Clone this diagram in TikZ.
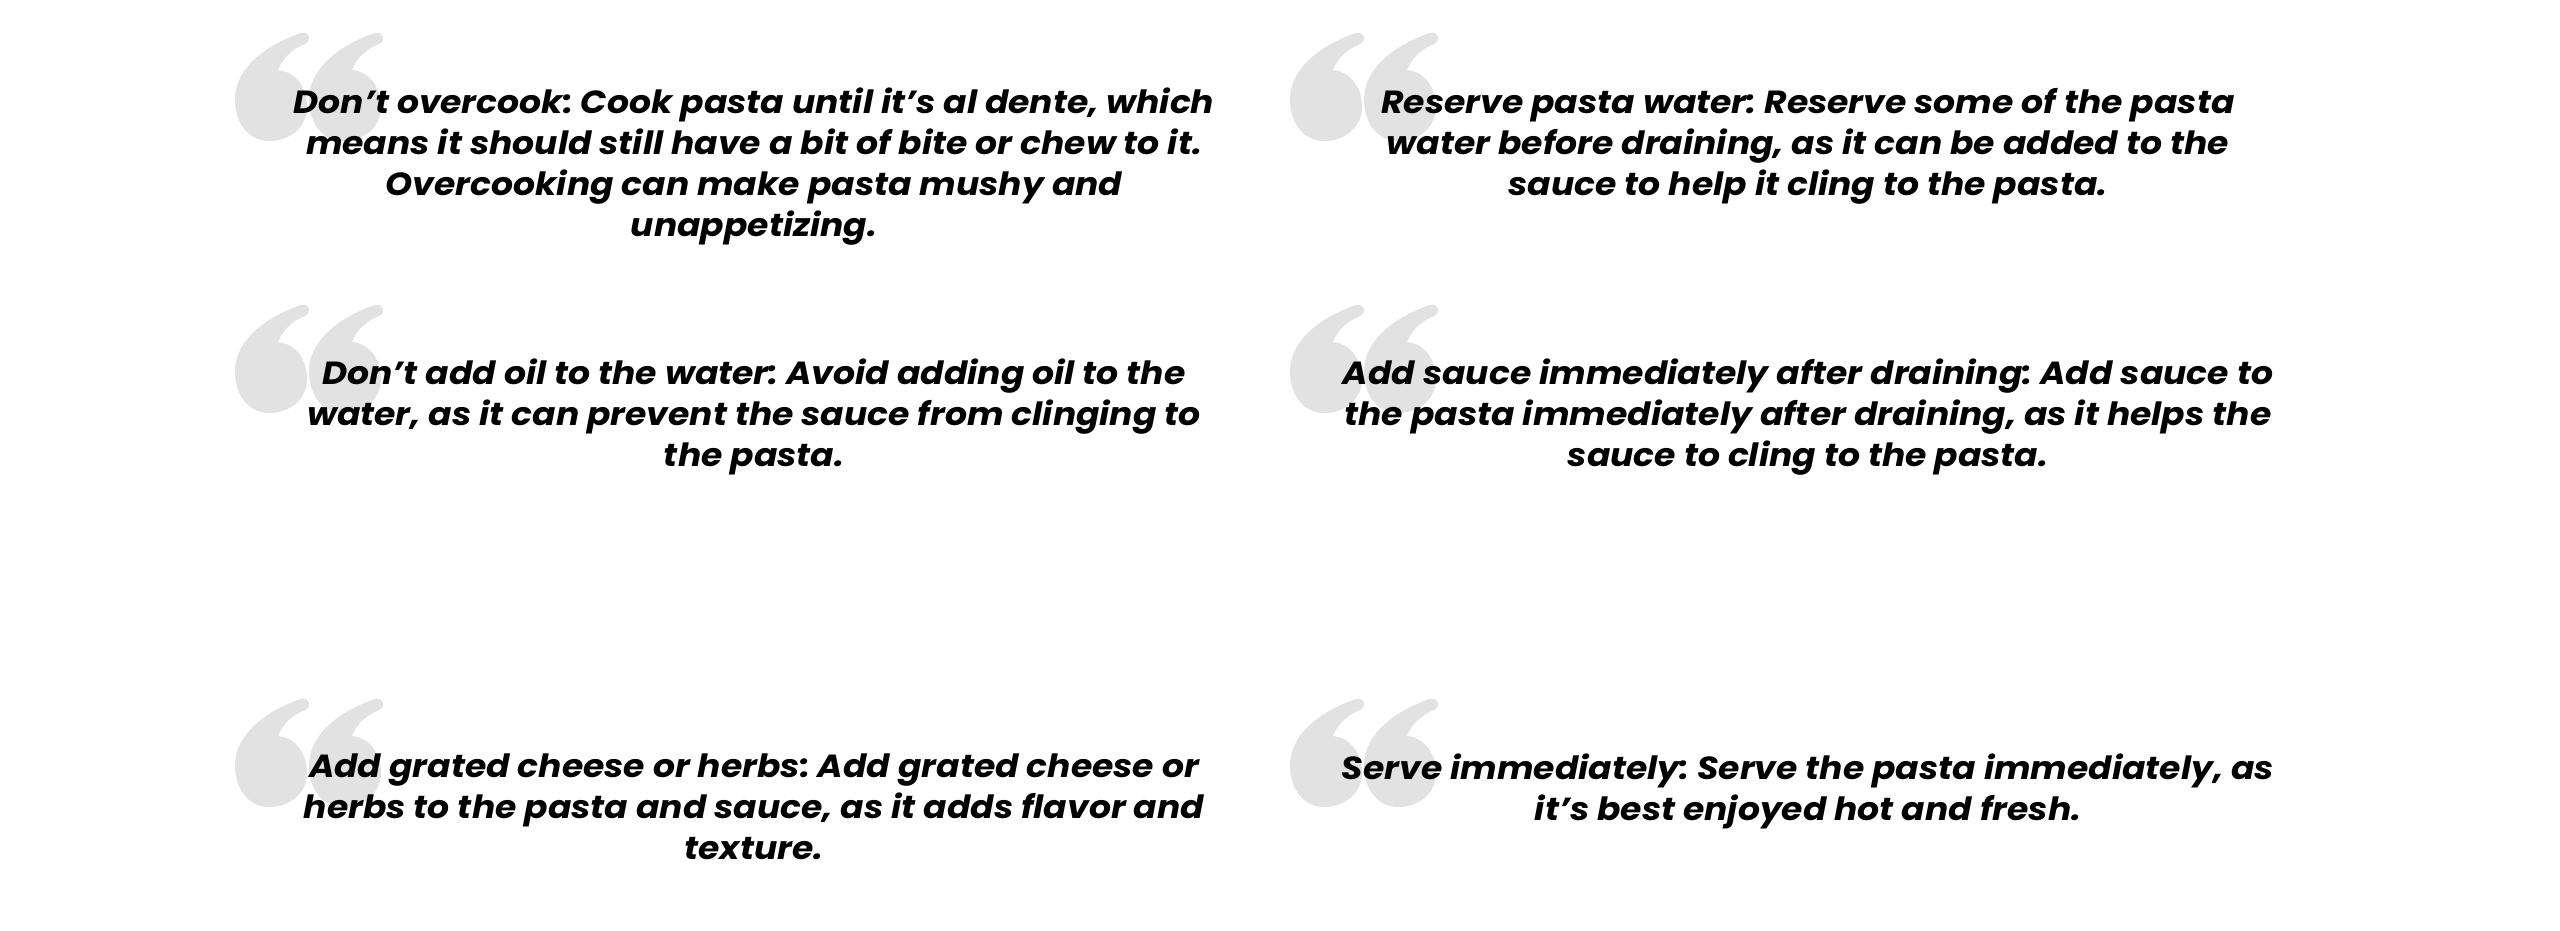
\documentclass[tikz,border=0pt]{standalone}
\usepackage{fontspec}
\setmainfont{Poppins}[BoldItalicFont={Poppins Bold Italic},BoldItalicFeatures={FakeStretch=1.08}]
\frenchspacing
\definecolor{quotegray}{HTML}{E2E2E2}
\tikzset{
  tiptext/.style={font=\fontsize{32bp}{41bp}\selectfont\bfseries\itshape,align=center,anchor=north,inner sep=0pt},
  comma/.pic={\fill[quotegray] (66,0) .. controls (30,12) and (0,36) .. (0,66) .. controls (0,92) and (15,108) .. (34,108) .. controls (55,108) and (72,94) .. (72,74) .. controls (72,52) and (58,38) .. (43,37) .. controls (48,24) and (58,16) .. (70,11) .. controls (77,8) and (75,-2) .. (66,0) -- cycle;},
}
\begin{document}
\begin{tikzpicture}[x=1bp,y=-1bp]
\fill[white] (0,0) rectangle (2560,930);
\useasboundingbox (0,0) rectangle (2560,930);
\foreach \qx in {235,1290}{ % quote marks, two columns
\foreach \qy in {33,305,699}{
\pic at (\qx,\qy) {comma};
\pic at (\qx+74,\qy) {comma};}}
\node[tiptext] (tip1) at (754,88) {Don’t overcook: Cook pasta until it’s al dente, which\\ means it should still have a bit of bite or chew to it.\\ Overcooking can make pasta mushy and\\ unappetizing.};
\node[tiptext] (tip2) at (1808,88) {Reserve pasta water: Reserve some of the pasta\\ water before draining, as it can be added to the\\ sauce to help it cling to the pasta.};
\node[tiptext] (tip3) at (754,359) {Don’t add oil to the water: Avoid adding oil to the\\ water, as it can prevent the sauce from clinging to\\ the pasta.};
\node[tiptext] (tip4) at (1808,359) {Add sauce immediately after draining: Add sauce to\\ the pasta immediately after draining, as it helps the\\ sauce to cling to the pasta.};
\node[tiptext] (tip5) at (754,754) {Add grated cheese or herbs: Add grated cheese or\\ herbs to the pasta and sauce, as it adds flavor and\\ texture.};
\node[tiptext] (tip6) at (1808,754) {Serve immediately: Serve the pasta immediately, as\\ it’s best enjoyed hot and fresh.};
\end{tikzpicture}
\end{document}
